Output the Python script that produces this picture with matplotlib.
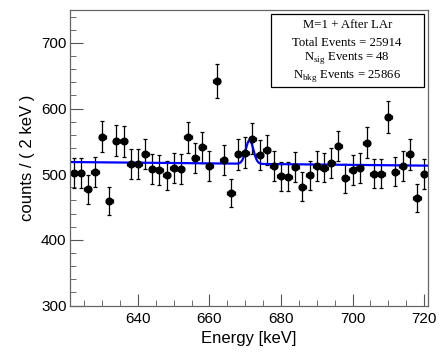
import numpy as np
import matplotlib.pyplot as plt
from matplotlib.patches import Rectangle
from matplotlib.ticker import MultipleLocator

# ---- binned data (2 keV bins) -------------------------------------
energy = np.arange(622, 721, 2)
counts = [502, 502, 477, 503, 557, 459, 551, 550, 515, 516,
          531, 508, 506, 498, 509, 508, 556, 525, 541, 513,
          642, 522, 471, 530, 533, 554, 529, 537, 512, 497,
          496, 511, 481, 498, 512, 510, 517, 543, 494, 506,
          509, 548, 501, 501, 587, 504, 512, 530, 464, 500]
counts = np.array(counts)

# ---- fit result (linear bkg + gaussian peak) ----------------------
bkg_left, bkg_right = 518.5, 513.0
peak_mean, peak_sigma, peak_amp = 671.2, 1.06, 36.0

legend_lines = ["M=1 + After LAr",
                "Total Events = 25914",
                r"N$_{\mathrm{sig}}$ Events = 48",
                r"N$_{\mathrm{bkg}}$ Events = 25866"]

plt.rcParams['font.family'] = 'Liberation Sans'
plt.rcParams['mathtext.fontset'] = 'custom'
plt.rcParams['mathtext.rm'] = 'Liberation Serif'

fig = plt.figure(figsize=(4.47, 3.59), dpi=100)
ax = fig.add_axes([0.1566, 0.149, 0.8002, 0.8231])

ax.errorbar(energy, counts, yerr=np.sqrt(counts), xerr=1.0,
            fmt='o', color='black', ms=4.8, elinewidth=0.9,
            capsize=1.3, capthick=0.9)

xf = np.linspace(621, 721, 1000)
bkg = bkg_left + (bkg_right - bkg_left) * (xf - 621) / 100.0
fit = bkg + peak_amp * np.exp(-0.5 * ((xf - peak_mean) / peak_sigma) ** 2)
ax.plot(xf, fit, color='#0000ff', lw=1.6)

ax.set_xlim(621, 721)
ax.set_ylim(300, 750)
ax.xaxis.set_major_locator(MultipleLocator(20))
ax.xaxis.set_minor_locator(MultipleLocator(5))
ax.yaxis.set_major_locator(MultipleLocator(100))
ax.yaxis.set_minor_locator(MultipleLocator(20))
ax.tick_params(which='both', direction='in', top=False, right=False,
               color='#555555', labelsize=11)
ax.tick_params(axis='x', which='major', length=9, pad=4.5)
ax.tick_params(axis='y', which='major', length=9, pad=2.5)
ax.tick_params(which='minor', length=4.5)
for s in ax.spines.values():
    s.set_color('#666666')
    s.set_linewidth(0.9)

ax.set_xlabel("Energy [keV]", fontsize=12, labelpad=4)
ax.set_ylabel("counts / ( 2 keV )", fontsize=12, labelpad=4)

# stats box
ax.add_patch(Rectangle((0.561, 0.7384), 0.428, 0.247, transform=ax.transAxes,
                       facecolor='white', edgecolor='black', lw=0.9, zorder=5))
ys = [0.949, 0.889, 0.839, 0.777]
for t, y in zip(legend_lines, ys):
    ax.text(0.775, y, t, transform=ax.transAxes, ha='center', va='center',
            family='Liberation Serif', fontsize=9.2, zorder=6)

fig.savefig("out.png", dpi=100)
